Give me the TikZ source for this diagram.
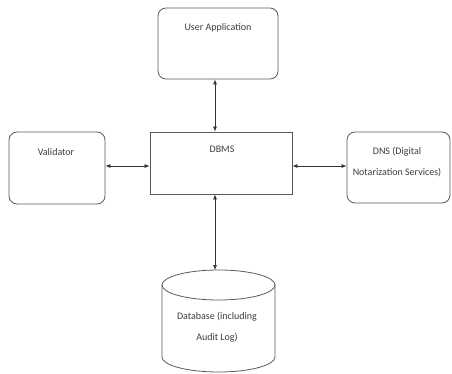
\documentclass[tikz,border=0pt]{standalone}
\usepackage{fontspec}
\setmainfont{Carlito}
\usetikzlibrary{arrows.meta}
\definecolor{boxline}{RGB}{90,90,90}
\definecolor{txt}{RGB}{60,60,60}
\begin{document}
\begin{tikzpicture}[x=1pt,y=-1pt,
  rbox/.style={draw=boxline,line width=0.8pt,rounded corners=8pt,minimum width=#1,inner sep=0pt},
  lbl/.style={text=txt,font=\fontsize{10}{21}\selectfont,align=center,inner sep=0pt},
  link/.style={draw=black!80,line width=0.7pt,{Latex[length=5pt,width=4pt]}-{Latex[length=5pt,width=4pt]}}]
\useasboundingbox (0,0) rectangle (452,374);
% boxes
\node[rbox=120pt,minimum height=71pt] (ua) at (218,43.5) {};
\node[rbox=96pt,minimum height=72pt] (val) at (57,168) {};
\node[rbox=103pt,minimum height=71pt] (dns) at (398.5,167.5) {};
\node[draw=boxline,line width=0.8pt,rounded corners=0pt,minimum width=142pt,minimum height=62pt,inner sep=0pt] (dbms) at (221,163) {};
% cylinder
\coordinate (dbtop) at (215,270);
\draw[boxline,line width=0.8pt] (162,285) arc[start angle=180,end angle=-180,x radius=56.5,y radius=15];
\draw[boxline,line width=0.8pt] (162,285) -- (162,357) arc[start angle=180,end angle=0,x radius=56.5,y radius=15] -- (275,285);
% labels
\node[lbl] at (218,28) {User Application};
\node[lbl] at (56,152) {Validator};
\node[lbl] at (222,149) {DBMS};
\node[lbl] at (397,162.5) {DNS (Digital\\Notarization Services)};
\node[lbl] at (217,327.5) {Database (including\\Audit Log)};
% connectors
\draw[link] (ua.south -| 215,0) -- (dbms.north -| 215,0);
\draw[link] (val.east |- 0,166) -- (dbms.west |- 0,166);
\draw[link] (dbms.east |- 0,166) -- (dns.west |- 0,166);
\draw[link] (dbms.south -| 215,0) -- (dbtop);
\end{tikzpicture}
\end{document}
